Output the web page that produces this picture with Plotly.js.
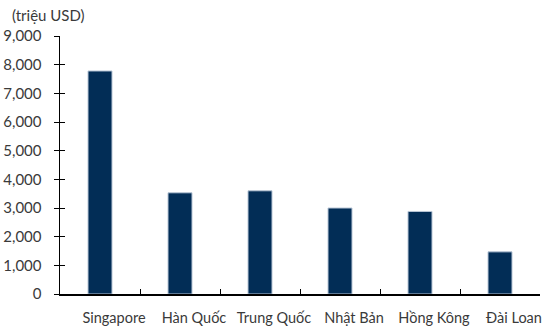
<!DOCTYPE html>
<html>
<head>
<meta charset="utf-8">
<script src="https://cdn.plot.ly/plotly-3.0.1.min.js"></script>
<style>html,body{margin:0;padding:0;background:#fff}#chart{width:543px;height:327px}</style>
</head>
<body>
<div id="chart"></div>
<script>
var categories = ["Singapore", "Hàn Quốc", "Trung Quốc", "Nhật Bản", "Hồng Kông", "Đài Loan"];
var values = [7780, 3530, 3600, 3000, 2880, 1470];
var yTickVals = [0, 1000, 2000, 3000, 4000, 5000, 6000, 7000, 8000, 9000];
var unitLabel = "(triệu USD)";

var font = {family: "Lato, 'Noto Sans', sans-serif", size: 15, color: "#3a3a3a"};
var xFont = {family: "Lato, 'Noto Sans', sans-serif", size: 14.5, color: "#3a3a3a"};

var data = [{
  type: "bar",
  x: categories,
  y: values,
  width: 0.3,
  marker: {color: "#022d56", line: {color: "#b8c6d6", width: 1}},
  hoverinfo: "x+y"
}, {
  type: "scatter", x: [categories[0]], y: [0], yaxis: "y2",
  mode: "markers", marker: {opacity: 0}, showlegend: false, hoverinfo: "skip"
}];

var layout = {
  width: 543, height: 327,
  margin: {l: 60, r: 3, t: 36, b: 33},
  paper_bgcolor: "#fff", plot_bgcolor: "#fff",
  font: font,
  showlegend: false,
  bargap: 0.7,
  xaxis: {
    type: "category",
    showgrid: false, zeroline: false,
    showline: true, linecolor: "#000", linewidth: 1.5,
    ticks: "inside", ticklen: 5, tickcolor: "#000", tickwidth: 1,
    tickson: "boundaries",
    tickangle: 0,
    ticklabelstandoff: 10,
    ticklabelshift: 14,
    tickfont: xFont,
    range: [-0.5, 5.5]
  },
  yaxis: {
    range: [0, 9000],
    tickvals: yTickVals,
    tickformat: ",d",
    showgrid: false, zeroline: false,
    showline: true, linecolor: "#000", linewidth: 1.5,
    ticks: "outside", ticklen: 5, tickcolor: "#000", tickwidth: 1,
    ticklabelstandoff: 9,
    tickfont: font,
    fixedrange: true
  },
  yaxis2: {
    overlaying: "y", side: "left",
    range: [0, 9000],
    tickvals: yTickVals,
    showticklabels: false,
    showgrid: false, zeroline: false, showline: false,
    ticks: "inside", ticklen: 5, tickcolor: "#000", tickwidth: 1
  },
  annotations: [{
    text: unitLabel, xref: "paper", yref: "paper",
    x: -0.105, y: 1.081, xanchor: "left", yanchor: "middle",
    showarrow: false, font: font
  }]
};

Plotly.newPlot("chart", data, layout, {displayModeBar: false, staticPlot: true});
</script>
</body>
</html>
